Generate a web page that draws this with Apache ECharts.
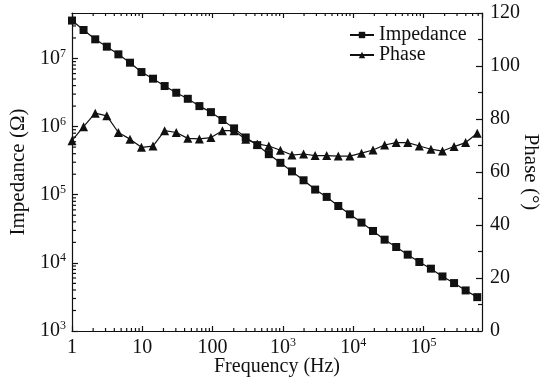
<!DOCTYPE html>
<html><head><meta charset="utf-8">
<script src="https://cdn.jsdelivr.net/npm/echarts@6/dist/echarts.min.js"></script>
<style>html,body{margin:0;padding:0;background:#fff}#c{width:544px;height:383px}</style>
</head><body><div id="c"></div>
<script>
// ---- data ----
const freq = [1, 1.46, 2.14, 3.13, 4.57, 6.68, 9.73, 14.2, 20.8, 30.4, 44.4, 64.9, 94.7, 138, 202, 296, 432, 631, 922, 1346, 1968, 2877, 4198, 6138, 8974, 13120, 19140, 27990, 40930, 59700, 87300, 127600, 186200, 272300, 398100, 582100];
const impedance = [3.60e7, 2.62e7, 1.91e7, 1.49e7, 1.15e7, 8.67e6, 6.32e6, 5.05e6, 3.94e6, 3.14e6, 2.56e6, 2.00e6, 1.63e6, 1.25e6, 9.42e5, 6.93e5, 5.35e5, 3.94e5, 2.94e5, 2.20e5, 1.63e5, 1.19e5, 9.29e4, 6.84e4, 5.16e4, 3.90e4, 2.94e4, 2.19e4, 1.71e4, 1.32e4, 1.03e4, 8.22e3, 6.32e3, 5.05e3, 3.94e3, 3.14e3];
const phase = [71.8, 77.1, 82.2, 81.2, 74.9, 72.4, 69.3, 69.8, 75.6, 74.9, 72.7, 72.5, 73.0, 75.6, 75.6, 72.4, 70.6, 69.8, 68.2, 66.4, 66.8, 66.2, 66.2, 66.0, 66.0, 67.1, 68.3, 70.2, 71.1, 71.1, 69.8, 68.6, 67.9, 69.6, 71.1, 74.6];
const seriesNames = ['Impedance', 'Phase'];
const xTickValues = [1, 10, 100, 1000, 10000, 100000];
const zTickValues = [1e3, 1e4, 1e5, 1e6, 1e7];
const phaseTicks = [0, 20, 40, 60, 80, 100, 120];
const xName = 'Frequency (Hz)';
const zName = 'Impedance (Ω)';
const pName = 'Phase (°)';
const xRange = [1, 6.8e5];
const zRange = [1e3, 4.65e7];

// ---- helpers ----
const FONT = 'Liberation Serif';
const INK = '#111';
const minorX = [];
for (let e = 0; e < 6; e++) for (let m = 2; m <= 9; m++) { const v = m * Math.pow(10, e); if (v < xRange[1]) minorX.push([v, zRange[0]]); }
const minorY = [];
for (let e = 3; e < 8; e++) for (let m = 2; m <= 9; m++) { const v = m * Math.pow(10, e); if (v < zRange[1]) minorY.push([xRange[0], v]); }

function isPow(v, list) { return list.some(t => Math.abs(Math.log10(v) - Math.log10(t)) < 1e-6); }
function xLabel(v) {
  if (!isPow(v, xTickValues)) return '';
  const e = Math.round(Math.log10(v));
  if (e < 3) return '{b|' + Math.pow(10, e) + '}';
  return '{b|10}{sup|' + e + '}';
}
function zLabel(v) {
  if (!isPow(v, zTickValues)) return '';
  return '{b|10}{sup|' + Math.round(Math.log10(v)) + '}';
}
const rich = {
  b: { fontSize: 20, fontFamily: FONT, color: INK, lineHeight: 22 },
  sup: { fontSize: 12, fontFamily: FONT, color: INK, lineHeight: 12, verticalAlign: 'top' }
};
const lineSt = { color: INK, width: 1.2 };

const chart = echarts.init(document.getElementById('c'));
chart.setOption({
  animation: false,
  backgroundColor: '#fff',
  textStyle: { fontFamily: FONT, color: INK },
  grid: { left: 72, right: 62, top: 13, bottom: 52, containLabel: false, outerBoundsMode: 'none' },
  legend: {
    data: seriesNames, orient: 'vertical', left: 344, top: 20, itemGap: 0,
    itemWidth: 24, itemHeight: 8,
    textStyle: { fontSize: 20, fontFamily: FONT, color: INK, lineHeight: 19 }
  },
  xAxis: [
    {
      type: 'log', logBase: 10, min: xRange[0], max: xRange[1], position: 'bottom',
      name: xName, nameLocation: 'middle', nameGap: 26, nameMoveOverlap: false,
      nameTextStyle: { fontSize: 20, fontFamily: FONT, color: INK },
      axisLine: { lineStyle: lineSt },
      axisTick: { inside: true, length: 5, lineStyle: lineSt },
      axisLabel: { formatter: xLabel, rich: rich, margin: 6, showMaxLabel: false },
      splitLine: { show: false }
    },
    {
      type: 'log', logBase: 10, min: xRange[0], max: xRange[1], position: 'top',
      axisLine: { lineStyle: lineSt },
      axisTick: { inside: true, length: 5, lineStyle: lineSt },
      axisLabel: { show: false },
      splitLine: { show: false }
    }
  ],
  yAxis: [
    {
      type: 'log', logBase: 10, min: zRange[0], max: zRange[1], position: 'left',
      name: zName, nameLocation: 'middle', nameGap: 43, nameMoveOverlap: false,
      nameTextStyle: { fontSize: 21, fontFamily: FONT, color: INK },
      axisLine: { lineStyle: lineSt },
      axisTick: { inside: true, length: 6, lineStyle: lineSt },
      axisLabel: { formatter: zLabel, rich: rich, margin: 6, showMaxLabel: false },
      splitLine: { show: false }
    },
    {
      type: 'value', min: phaseTicks[0], max: phaseTicks[phaseTicks.length - 1], interval: 20, position: 'right',
      name: pName, nameLocation: 'middle', nameGap: 38, nameRotate: -90, nameMoveOverlap: false,
      nameTextStyle: { fontSize: 21, fontFamily: FONT, color: INK },
      axisLine: { lineStyle: lineSt },
      axisTick: { inside: true, length: 6, lineStyle: lineSt },
      minorTick: { show: true, splitNumber: 2, length: 4, lineStyle: lineSt },
      axisLabel: { fontSize: 20, fontFamily: FONT, color: INK, margin: 8 },
      splitLine: { show: false }
    }
  ],
  series: [
    {
      name: seriesNames[0], type: 'line', xAxisIndex: 0, yAxisIndex: 0,
      data: freq.map((f, i) => [f, impedance[i]]),
      symbol: 'rect', symbolSize: 8, showAllSymbol: true,
      lineStyle: { color: INK, width: 1.2 }, itemStyle: { color: INK }
    },
    {
      name: seriesNames[1], type: 'line', xAxisIndex: 0, yAxisIndex: 1,
      data: freq.map((f, i) => [f, phase[i]]),
      symbol: 'triangle', symbolSize: 9, showAllSymbol: true,
      lineStyle: { color: INK, width: 1.2 }, itemStyle: { color: INK }
    },
    {
      type: 'custom', xAxisIndex: 0, yAxisIndex: 0, silent: true, clip: false, z: 5,
      data: minorX,
      renderItem: function (params, api) {
        const x = api.coord([api.value(0), api.value(1)])[0];
        const cs = params.coordSys;
        const st = { stroke: INK, lineWidth: 1.2 };
        return { type: 'group', children: [
          { type: 'line', shape: { x1: x, y1: cs.y + cs.height, x2: x, y2: cs.y + cs.height - 3 }, style: st },
          { type: 'line', shape: { x1: x, y1: cs.y, x2: x, y2: cs.y + 3 }, style: st }
        ] };
      }
    },
    {
      type: 'custom', xAxisIndex: 0, yAxisIndex: 0, silent: true, clip: false, z: 5,
      data: minorY,
      renderItem: function (params, api) {
        const y = api.coord([api.value(0), api.value(1)])[1];
        const cs = params.coordSys;
        return { type: 'line', shape: { x1: cs.x, y1: y, x2: cs.x + 4, y2: y }, style: { stroke: INK, lineWidth: 1.2 } };
      }
    }
  ]
});
</script>
</body></html>
